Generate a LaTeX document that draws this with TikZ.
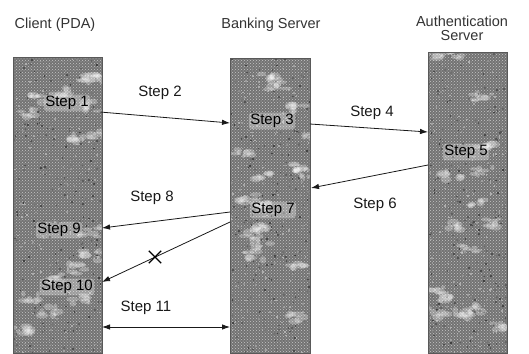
\documentclass[tikz,border=0pt]{standalone}
\usepackage{fontspec}
\setmainfont{Liberation Sans}
\usetikzlibrary{arrows.meta,shapes.misc,calc,patterns}

\tikzset{
  col/.style={draw=black!65, line width=0.5pt, fill=black!55, inner sep=0pt,
              anchor=north west, minimum width=#1},
  head/.style={font=\fontsize{14.5}{17}\selectfont, text=black!80, align=center},
  steptxt/.style={font=\fontsize{15}{17}\selectfont, text=black!90},
  onstep/.style={steptxt, text=black, fill=white, fill opacity=0.3, text opacity=1,
                 inner sep=1.5pt, rounded corners=3pt},
  msg/.style={line width=0.8pt, draw=black!90, -{Latex[length=8pt,width=5.5pt]}},
  bimsg/.style={line width=0.8pt, draw=black!90, {Latex[length=8pt,width=5.5pt]}-{Latex[length=8pt,width=5.5pt]}},
}

% grainy, cloudy fill of one column
\newcommand\grain[4]{% x0, y0, width, height
  \begin{scope}
    \clip (#1,#2) rectangle ++(#3,#4);
    \fill[pattern=crosshatch dots, pattern color=black!22] (#1,#2) rectangle ++(#3,#4);
    \foreach \i in {1,...,450}{
      \pgfmathsetmacro\gx{#1+rnd*#3}
      \pgfmathsetmacro\gy{#2+rnd*#4}
      \pgfmathsetmacro\gl{30+rnd*45}
      \fill[black!\gl] (\gx,\gy) rectangle ++(1.6,1.6);
    }
    \foreach \i in {1,...,16}{
      \pgfmathsetmacro\cx{#1+rnd*#3}
      \pgfmathsetmacro\cy{#2+rnd*#4}
      \foreach \j in {1,...,7}{
        \pgfmathsetmacro\gx{\cx+rand*10}
        \pgfmathsetmacro\gy{\cy+rand*5}
        \pgfmathsetmacro\ga{2+rnd*5}
        \pgfmathsetmacro\gb{1.5+rnd*2.5}
        \fill[white, opacity=0.28] (\gx,\gy) ellipse ({\ga} and {\gb});
      }
    }
  \end{scope}
}

\begin{document}
\begin{tikzpicture}[x=1pt,y=-1pt]
  \useasboundingbox (0,0) rectangle (529,353);
  \pgfmathsetseed{4217}

  % the three parties
  \node[col=89pt, minimum height=296pt] (client) at (13,57) {};
  \node[col=80pt, minimum height=295pt] (bank) at (230,58) {};
  \node[col=79pt, minimum height=301pt] (auth) at (428,52) {};
  \grain{13}{57}{89}{296}
  \grain{230}{58}{80}{295}
  \grain{428}{52}{79}{301}
  \draw[black!65, line width=0.5pt] (client.north west) rectangle (client.south east);
  \draw[black!65, line width=0.5pt] (bank.north west) rectangle (bank.south east);
  \draw[black!65, line width=0.5pt] (auth.north west) rectangle (auth.south east);

  % headings
  \node[head] (hclient) at (55,25) {Client (PDA)};
  \node[head] (hbank) at (271,25) {Banking Server};
  \node[head] (hauth) at (462,28) {Authentication\\[-3pt]Server};

  % labels on the columns
  \node[onstep] (s1) at (67,103) {Step 1};
  \node[onstep] (s3) at (272,121) {Step 3};
  \node[onstep] (s5) at (466,152) {Step 5};
  \node[onstep] (s7) at (273,210) {Step 7};
  \node[onstep] (s9) at (59,230) {Step 9};
  \node[onstep] (s10) at (67,287) {Step 10};

  % connector ends on the column edges
  \coordinate (c1) at (100,112);
  \coordinate (b1) at (230,123);
  \coordinate (b2) at (310,124);
  \coordinate (a2) at (428,132);
  \coordinate (a3) at (428,165);
  \coordinate (b3) at (311,188);
  \coordinate (b4) at (230,212);
  \coordinate (c4) at (102,228);
  \coordinate (b5) at (230,222);
  \coordinate (c5) at (102,282);
  \coordinate (c6) at (102,327);
  \coordinate (b6) at (230,327);

  % messages
  \draw[msg] (c1) -- (b1);
  \draw[msg] (b2) -- (a2);
  \draw[msg] (a3) -- (b3);
  \draw[msg] (b4) -- (c4);
  \draw[msg] (b5) -- (c5);
  \draw[bimsg] (c6) -- (b6);
  \node[cross out, draw=black, line width=1.3pt, minimum size=11pt, inner sep=0pt] (cut) at (155,257) {};

  % message labels
  \node[steptxt] (t2) at (160,93) {Step 2};
  \node[steptxt] (t4) at (372,113) {Step 4};
  \node[steptxt] (t6) at (375,205) {Step 6};
  \node[steptxt] (t8) at (152,198) {Step 8};
  \node[steptxt] (t11) at (146,308) {Step 11};
\end{tikzpicture}
\end{document}
